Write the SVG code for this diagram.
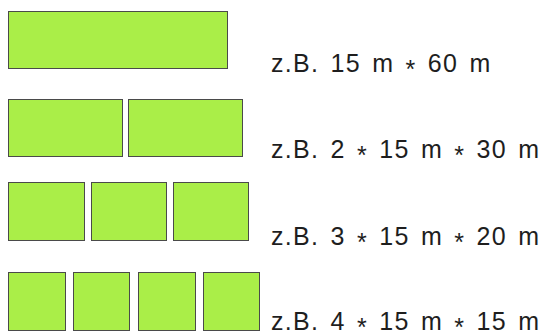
<svg xmlns="http://www.w3.org/2000/svg" width="543" height="334" viewBox="0 0 543 334">
<style>
.r{fill:#aaee48;stroke:#4a4a4a;stroke-width:1}
.t{font-family:"Liberation Sans",Arial,sans-serif;font-size:25px;fill:#1e1e1e;letter-spacing:1.3px;word-spacing:3px}
.a{baseline-shift:-6px}
</style>
<rect width="543" height="334" fill="#fff"/>
<g id="row1">
<rect class="r" x="8.5" y="11.5" width="219" height="57"/>
<text class="t" x="271" y="72">z.B. 15 m <tspan class="a">*</tspan> 60 m</text>
</g>
<g id="row2">
<rect class="r" x="8.5" y="99.5" width="114" height="57"/>
<rect class="r" x="128.5" y="99.5" width="114" height="57"/>
<text class="t" x="271" y="158">z.B. 2 <tspan class="a">*</tspan> 15 m <tspan class="a">*</tspan> 30 m</text>
</g>
<g id="row3">
<rect class="r" x="8.5" y="182.5" width="76" height="58"/>
<rect class="r" x="91.5" y="182.5" width="75" height="58"/>
<rect class="r" x="173.5" y="182.5" width="75" height="58"/>
<text class="t" x="271" y="245">z.B. 3 <tspan class="a">*</tspan> 15 m <tspan class="a">*</tspan> 20 m</text>
</g>
<g id="row4">
<rect class="r" x="8.5" y="272.5" width="57" height="58"/>
<rect class="r" x="73.5" y="272.5" width="56" height="58"/>
<rect class="r" x="138.5" y="272.5" width="57" height="58"/>
<rect class="r" x="203.5" y="272.5" width="56" height="58"/>
<text class="t" x="271" y="330">z.B. 4 <tspan class="a">*</tspan> 15 m <tspan class="a">*</tspan> 15 m</text>
</g>
<g id="connectors"/>
</svg>
